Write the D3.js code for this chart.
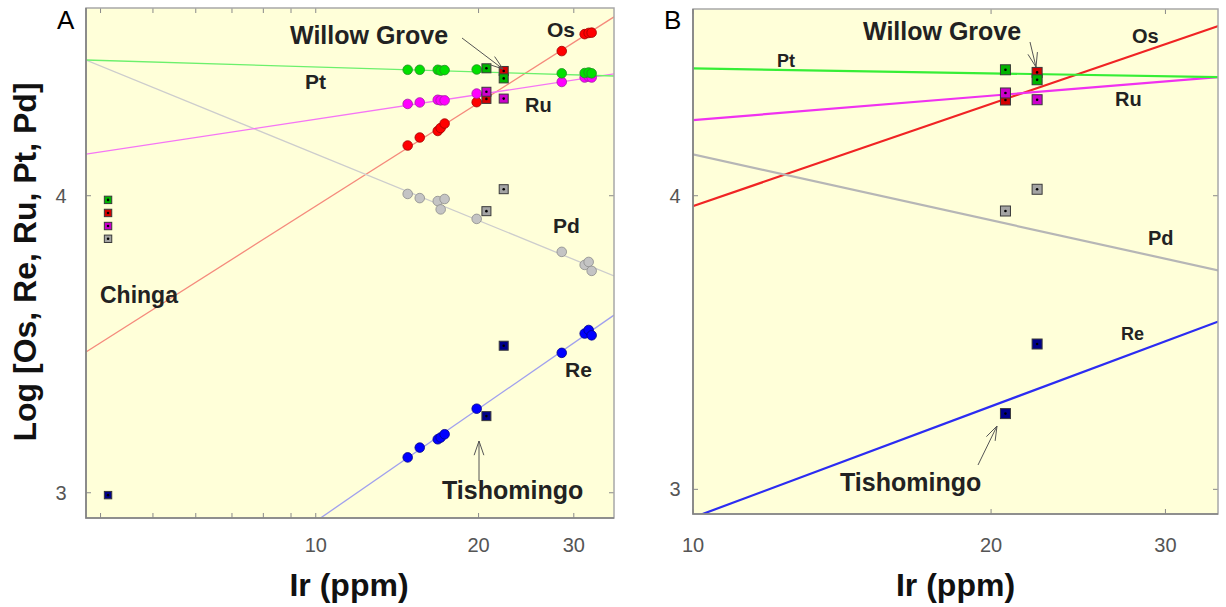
<!DOCTYPE html>
<html>
<head>
<meta charset="utf-8">
<script src="https://cdn.jsdelivr.net/npm/d3@7"></script>
<style>
  body { margin: 0; background: #fff; }
  svg { display: block; }
  text { font-family: "Liberation Sans", Arial, sans-serif; }
</style>
</head>
<body>
<svg id="chart" width="1226" height="607"></svg>
<script>
// Ir (ppm) of the regression samples
var irSamples = [14.79, 15.57, 16.81, 17.02, 17.31, 19.84, 28.5, 31.42, 31.96, 32.37];
// log concentrations for each element
var osValues = [4.169, 4.196, 4.218, 4.228, 4.243, 4.315, 4.487, 4.544, 4.548, 4.549];
var reValues = [3.119, 3.152, 3.180, 3.186, 3.197, 3.283, 3.471, 3.536, 3.548, 3.530];
var pdValues = [4.006, 3.992, 3.982, 3.954, 3.989, 3.922, 3.811, 3.767, 3.777, 3.747];
var ruValues = [4.309, 4.314, 4.323, 4.321, 4.321, 4.344, 4.383, 4.398, 4.401, 4.398];
var ptValues = [4.424, 4.424, 4.424, 4.421, 4.423, 4.425, 4.412, 4.413, 4.415, 4.412];

// named sites (square markers), order Os, Re, Pd, Ru, Pt
var siteNames = ['Chinga', 'Tishomingo', 'Willow Grove'];
var siteIr = [4.13, 20.68, 22.26];
var siteOs = [3.942, 4.326, 4.420];
var siteRe = [2.992, 3.258, 3.495];
var sitePd = [3.855, 3.948, 4.022];
var siteRu = [3.898, 4.350, 4.327];
var sitePt = [3.986, 4.429, 4.395];

// regression lines, end points at Ir = lineIr
var lineIr = [3.76, 35.6];
var osLine = [3.474, 4.602];
var reLine = [2.369, 3.598];
var pdLine = [4.457, 3.730];
var ruLine = [4.140, 4.410];
var ptLine = [4.457, 4.403];

var xTickLabels = [10, 20, 30];
var yTickLabels = [3, 4];

var series = [
    { name: 'Os', pts: osValues, site: siteOs, line: osLine,
      lineA: '#f58a7c', lineB: '#f02424', fill: '#ff0000', edge: '#a00000', sq: '#d40000' },
    { name: 'Re', pts: reValues, site: siteRe, line: reLine,
      lineA: '#a0a0ee', lineB: '#2c2cf2', fill: '#0000ff', edge: '#00008a', sq: '#00008a' },
    { name: 'Pd', pts: pdValues, site: sitePd, line: pdLine,
      lineA: '#cdcdcd', lineB: '#b6b6b6', fill: '#c4c4c4', edge: '#8c8c8c', sq: '#a4a4a4' },
    { name: 'Ru', pts: ruValues, site: siteRu, line: ruLine,
      lineA: '#f575f5', lineB: '#f032f0', fill: '#ff00ff', edge: '#a020a0', sq: '#cc00cc' },
    { name: 'Pt', pts: ptValues, site: sitePt, line: ptLine,
      lineA: '#6cf06c', lineB: '#36ee36', fill: '#00e000', edge: '#268a26', sq: '#00b400' }
];

var panels = [
    { id: 'A', left: 86, top: 8, right: 614, bottom: 518,
      xDomain: [3.76, 35.6], yDomain: [2.915, 4.632],
      xTicks: [4, 5, 6, 7, 8, 9, 10, 20, 30], lineKey: 'lineA', lineW: 1.3,
      circles: true, sqSize: 9, yLabelX: 61,
      letter: [57, 29],
      labels: [
          ['Willow Grove', 290, 44, 25], ['Os', 547, 37, 21], ['Pt', 305, 89, 21],
          ['Ru', 525, 112, 20], ['Pd', 553, 233, 21], ['Chinga', 100, 303, 23],
          ['Re', 565, 377, 21], ['Tishomingo', 442, 499, 25]
      ],
      arrows: [[479, 481, 479, 441], [462, 38, 503, 69]] },
    { id: 'B', left: 693, top: 9, right: 1218, bottom: 514,
      xDomain: [10, 33.9], yDomain: [2.916, 4.636],
      xTicks: [10, 20, 30], lineKey: 'lineB', lineW: 2.2,
      circles: false, sqSize: 10, yLabelX: 675,
      letter: [664, 29],
      labels: [
          ['Willow Grove', 863, 40, 25], ['Os', 1132, 43, 20], ['Pt', 777, 67, 18],
          ['Ru', 1115, 106, 20], ['Pd', 1148, 245, 20], ['Re', 1121, 340, 18],
          ['Tishomingo', 840, 491, 25]
      ],
      arrows: [[978, 465, 997, 426], [1030, 42, 1036, 67]] }
];

var svg = d3.select('#chart');

function drawArrow(g, x1, y1, x2, y2) {
    var ang = Math.atan2(y2 - y1, x2 - x1), len = 15, spread = 0.33;
    g.append('line').attr('x1', x1).attr('y1', y1).attr('x2', x2).attr('y2', y2);
    [-spread, spread].forEach(function(s) {
        g.append('line')
            .attr('x1', x2 - len * Math.cos(ang + s)).attr('y1', y2 - len * Math.sin(ang + s))
            .attr('x2', x2).attr('y2', y2);
    });
}

function drawPanel(p) {
    var x = d3.scaleLog().domain(p.xDomain).range([p.left, p.right]);
    var y = d3.scaleLinear().domain(p.yDomain).range([p.bottom, p.top]);
    var g = svg.append('g');

    g.append('rect')
        .attr('x', p.left).attr('y', p.top)
        .attr('width', p.right - p.left).attr('height', p.bottom - p.top)
        .attr('fill', '#ffffd9');

    g.append('clipPath').attr('id', 'clip' + p.id)
        .append('rect')
        .attr('x', p.left).attr('y', p.top)
        .attr('width', p.right - p.left).attr('height', p.bottom - p.top);

    // ticks inside the frame
    var tk = g.append('g').attr('stroke', '#8a8a8a').attr('stroke-width', 1);
    p.xTicks.forEach(function(t) {
        if (t < p.xDomain[0] || t > p.xDomain[1]) return;
        tk.append('line').attr('x1', x(t)).attr('x2', x(t)).attr('y1', p.bottom).attr('y2', p.bottom - 5);
        tk.append('line').attr('x1', x(t)).attr('x2', x(t)).attr('y1', p.top).attr('y2', p.top + 5);
    });
    yTickLabels.forEach(function(t) {
        tk.append('line').attr('x1', p.left).attr('x2', p.left + 5).attr('y1', y(t)).attr('y2', y(t));
        tk.append('line').attr('x1', p.right).attr('x2', p.right - 5).attr('y1', y(t)).attr('y2', y(t));
    });

    // regression lines
    var lineGen = d3.line().x(function(d) { return x(d[0]); }).y(function(d) { return y(d[1]); });
    var lg = g.append('g').attr('clip-path', 'url(#clip' + p.id + ')');
    series.forEach(function(s) {
        lg.append('path')
            .attr('d', lineGen([[lineIr[0], s.line[0]], [lineIr[1], s.line[1]]]))
            .attr('fill', 'none').attr('stroke', s[p.lineKey]).attr('stroke-width', p.lineW);
    });

    // sample circles
    if (p.circles) {
        series.forEach(function(s) {
            lg.selectAll(null).data(irSamples).enter().append('circle')
                .attr('cx', function(d) { return x(d); })
                .attr('cy', function(d, i) { return y(s.pts[i]); })
                .attr('r', 4.8)
                .attr('fill', s.fill).attr('stroke', s.edge).attr('stroke-width', 0.8);
        });
    }

    // site squares
    var h = p.sqSize / 2;
    series.forEach(function(s) {
        siteIr.forEach(function(ir, i) {
            if (ir < p.xDomain[0]) return;
            var sz = i === 0 ? h - 0.8 : h;
            var cx = x(ir), cy = y(s.site[i]);
            lg.append('rect')
                .attr('x', cx - sz).attr('y', cy - sz)
                .attr('width', sz * 2).attr('height', sz * 2)
                .attr('fill', s.sq).attr('stroke', '#3a3a3a').attr('stroke-width', 1);
            lg.append('circle').attr('cx', cx).attr('cy', cy).attr('r', 1.3).attr('fill', '#000');
        });
    });

    // frame
    g.append('rect')
        .attr('x', p.left).attr('y', p.top)
        .attr('width', p.right - p.left).attr('height', p.bottom - p.top)
        .attr('fill', 'none').attr('stroke', '#a8a8a8').attr('stroke-width', 1.5);
    g.append('path')
        .attr('d', 'M' + p.left + ',' + p.top + 'V' + p.bottom + 'H' + p.right)
        .attr('fill', 'none').attr('stroke', '#808080').attr('stroke-width', 1.6);

    // tick labels
    xTickLabels.forEach(function(t) {
        g.append('text').attr('x', x(t)).attr('y', 552)
            .attr('text-anchor', 'middle').attr('font-size', 20).attr('fill', '#555')
            .text(t);
    });
    yTickLabels.forEach(function(t) {
        g.append('text').attr('x', p.yLabelX).attr('y', y(t) + 7)
            .attr('text-anchor', 'middle').attr('font-size', 20).attr('fill', '#555')
            .text(t);
    });

    // annotations
    p.labels.forEach(function(l) {
        g.append('text').attr('x', l[1]).attr('y', l[2])
            .attr('font-size', l[3]).attr('font-weight', 'bold').attr('fill', '#222')
            .text(l[0]);
    });
    var ag = g.append('g').attr('stroke', '#555').attr('stroke-width', 1).attr('fill', 'none');
    p.arrows.forEach(function(a) { drawArrow(ag, a[0], a[1], a[2], a[3]); });

    g.append('text').attr('x', p.letter[0]).attr('y', p.letter[1])
        .attr('font-size', 26).attr('fill', '#000').text(p.id);

    g.append('text').attr('x', (p.left + p.right) / 2 + (p.id === 'A' ? -1 : 0)).attr('y', 596)
        .attr('text-anchor', 'middle').attr('font-size', 32).attr('font-weight', 'bold')
        .attr('fill', '#111').text('Ir (ppm)');
}

panels.forEach(drawPanel);

svg.append('text')
    .attr('transform', 'translate(36,262) rotate(-90)')
    .attr('text-anchor', 'middle').attr('font-size', 32).attr('font-weight', 'bold')
    .attr('fill', '#111').text('Log [Os, Re, Ru, Pt, Pd]');
</script>
</body>
</html>
